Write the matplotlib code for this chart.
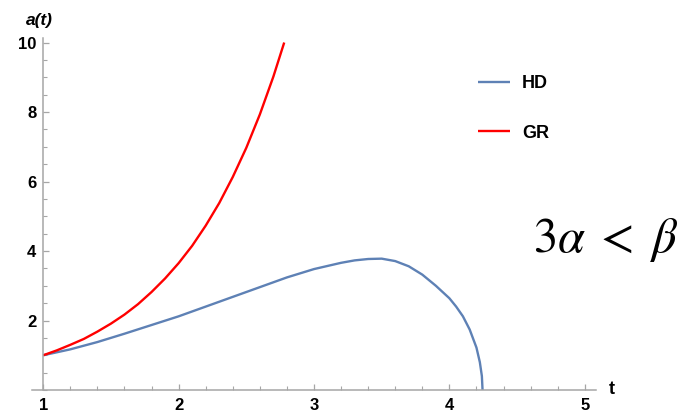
import numpy as np
import matplotlib
matplotlib.use('Agg')
import matplotlib.pyplot as plt
from matplotlib.ticker import MultipleLocator

# values
t_hd = [1.0, 1.2, 1.4, 1.6, 1.8, 2.0, 2.2, 2.4, 2.6, 2.8, 3.0, 3.2, 3.3, 3.4, 3.5,
        3.6, 3.7, 3.8, 3.9, 4.0, 4.05, 4.1, 4.15, 4.2, 4.225, 4.24, 4.245]
a_hd = [1.00, 1.17, 1.38, 1.62, 1.87, 2.12, 2.40, 2.68, 2.96, 3.24, 3.48, 3.66, 3.73, 3.77, 3.78,
        3.71, 3.56, 3.32, 3.00, 2.64, 2.40, 2.12, 1.74, 1.22, 0.80, 0.40, 0.0]

t_gr = [1.0, 1.1, 1.2, 1.3, 1.4, 1.5, 1.6, 1.7, 1.8, 1.9, 2.0, 2.1, 2.2, 2.3,
        2.4, 2.5, 2.6, 2.7, 2.78]
a_gr = [1.00, 1.14, 1.30, 1.47, 1.68, 1.91, 2.17, 2.47, 2.82, 3.21, 3.65, 4.15, 4.73, 5.38,
        6.13, 6.97, 7.93, 9.02, 10.0]

series_labels = ['HD', 'GR']
x_ticks = [1, 2, 3, 4, 5]
y_ticks = [2, 4, 6, 8, 10]

hd_color = '#5e81b5'
gr_color = '#ff0000'
axis_gray = '#a6a6a6'

plt.rcParams['font.family'] = ['Liberation Sans', 'DejaVu Sans']
plt.rcParams['mathtext.fontset'] = 'stix'

fig = plt.figure(figsize=(6.89, 4.15), dpi=100)
# axes box placed so the data area matches the reference pixels
ax = fig.add_axes([32 / 689, 25 / 415, (596 - 32) / 689, (390 - 38) / 415])

ax.plot(t_hd, a_hd, color=hd_color, lw=1.7, label=series_labels[0], solid_capstyle='butt')
ax.plot(t_gr, a_gr, color=gr_color, lw=1.7, label=series_labels[1], solid_capstyle='butt')

ax.set_xlim(0.917, 5.083)
ax.set_ylim(0, 10.13)

# Mathematica style axes crossing at (1, 0)
for side in ['top', 'right']:
    ax.spines[side].set_visible(False)
ax.spines['left'].set_position(('data', 1))
ax.spines['bottom'].set_position(('data', 0))
for side in ['left', 'bottom']:
    ax.spines[side].set_color(axis_gray)
    ax.spines[side].set_linewidth(1.1)

ax.set_xticks(x_ticks)
ax.set_yticks(y_ticks)
ax.xaxis.set_minor_locator(MultipleLocator(0.2))
ax.yaxis.set_minor_locator(MultipleLocator(0.5))
ax.tick_params(which='major', direction='in', length=4.5, width=0.9, color=axis_gray,
               labelsize=12, pad=5)
ax.tick_params(which='minor', direction='in', length=2.6, width=0.8, color=axis_gray)
ax.tick_params(axis='x', which='major', pad=6)
for lab in ax.get_xticklabels() + ax.get_yticklabels():
    lab.set_fontweight('bold')

# axis labels at the ends of the axes
fig.text(26 / 689, 1 - 21 / 415, 'a(t)', fontsize=12.5, fontweight='bold', style='italic',
         ha='left', va='center')
fig.text(612 / 689, 1 - 389 / 415, 't', fontsize=13, fontweight='bold',
         ha='center', va='center')

leg = ax.legend(loc='upper left', bbox_to_anchor=(478 / 689, 1 - 75 / 415),
                bbox_transform=fig.transFigure, frameon=False, borderpad=0,
                borderaxespad=0, handlelength=1.77, handletextpad=0.66,
                labelspacing=1.8, prop={'weight': 'bold', 'size': 13})

fig.text(533 / 689, 1 - 240 / 415, r'$3\alpha\;<\;\beta$', fontsize=35,
         ha='left', va='center')

plt.savefig('out.png', dpi=100)
plt.close()
